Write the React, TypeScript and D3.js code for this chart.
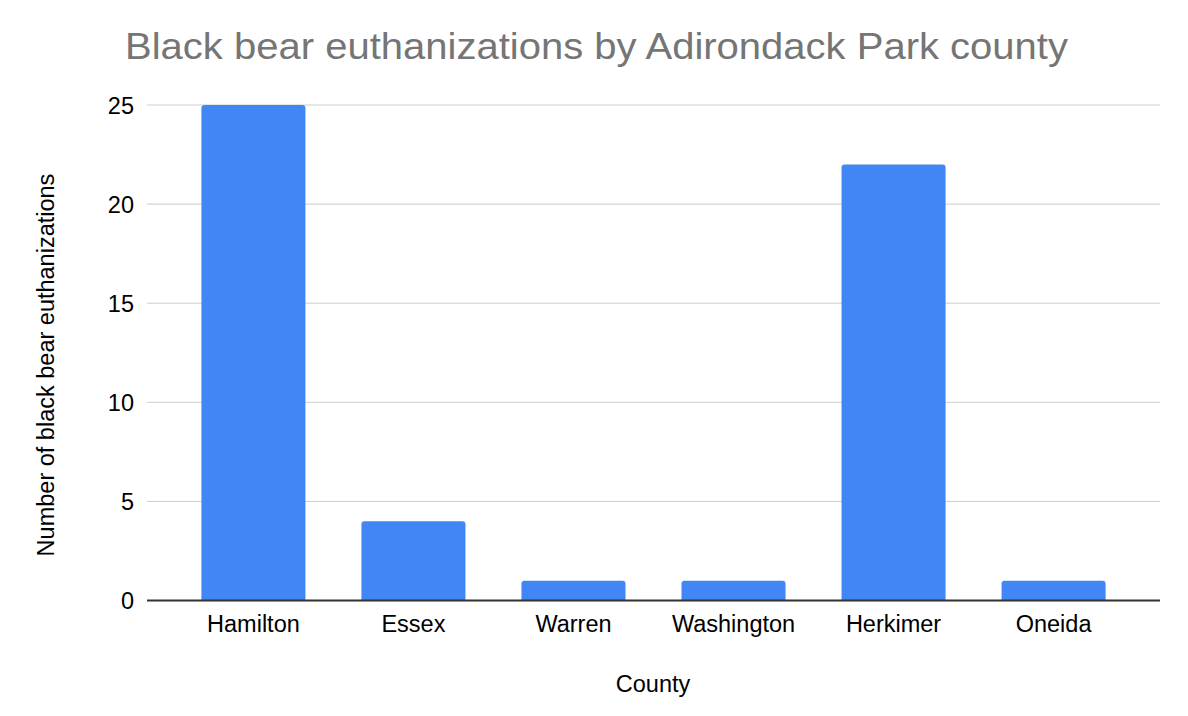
import React from "react";
import * as d3 from "d3";

const counties = ["Hamilton", "Essex", "Warren", "Washington", "Herkimer", "Oneida"];
const euthanizations = [25, 4, 1, 1, 22, 1];
const yTicks = [0, 5, 10, 15, 20, 25];

const W = 1188;
const H = 716;
const FONT = "Arial, 'Liberation Sans', Helvetica, sans-serif";
const FS = 23.5;

export default function App() {
  const x = d3.scaleBand<string>().domain(counties).range([147, 1160]).paddingInner(0.35).paddingOuter(0.34);
  const y = d3.scaleLinear().domain([0, 25]).range([600.5, 105]);
  const r = 3;
  const barPath = (xv: number, yv: number, w: number, h: number) => {
    const rr = Math.min(r, h / 2);
    return `M${xv},${yv + h}V${yv + rr}Q${xv},${yv} ${xv + rr},${yv}H${xv + w - rr}Q${xv + w},${yv} ${xv + w},${yv + rr}V${yv + h}Z`;
  };
  return (
    <svg width={W} height={H} style={{ position: "absolute", left: 0, top: 0, background: "#fff" }} fontFamily={FONT}>
      <rect width={W} height={H} fill="#fff" />
      <text x={125} y={59} fontSize={37} fill="#757575" textLength={943} lengthAdjust="spacingAndGlyphs">Black bear euthanizations by Adirondack Park county</text>
      {yTicks.map((t) => (
        <g key={t}>
          {t !== 0 && <line x1={147} x2={1160} y1={y(t)} y2={y(t)} stroke="#cccccc" strokeWidth={1} />}
          <text x={134} y={y(t) + 8.5} fontSize={FS} textAnchor="end" fill="#000">{t}</text>
        </g>
      ))}
      {counties.map((c, i) => {
        const bx = x(c)!;
        const by = y(euthanizations[i]);
        return <path key={c} d={barPath(bx, by, x.bandwidth(), y(0) - by)} fill="#4285f4" />;
      })}
      <line x1={147} x2={1160} y1={y(0)} y2={y(0)} stroke="#333" strokeWidth={2} />
      {counties.map((c) => (
        <text key={c} x={x(c)! + x.bandwidth() / 2} y={632} fontSize={FS} textAnchor="middle" fill="#000">{c}</text>
      ))}
      <text x={653} y={692} fontSize={FS} textAnchor="middle" fill="#000">County</text>
      <text transform={`translate(54,365) rotate(-90)`} fontSize={FS} textAnchor="middle" fill="#000">Number of black bear euthanizations</text>
    </svg>
  );
}
